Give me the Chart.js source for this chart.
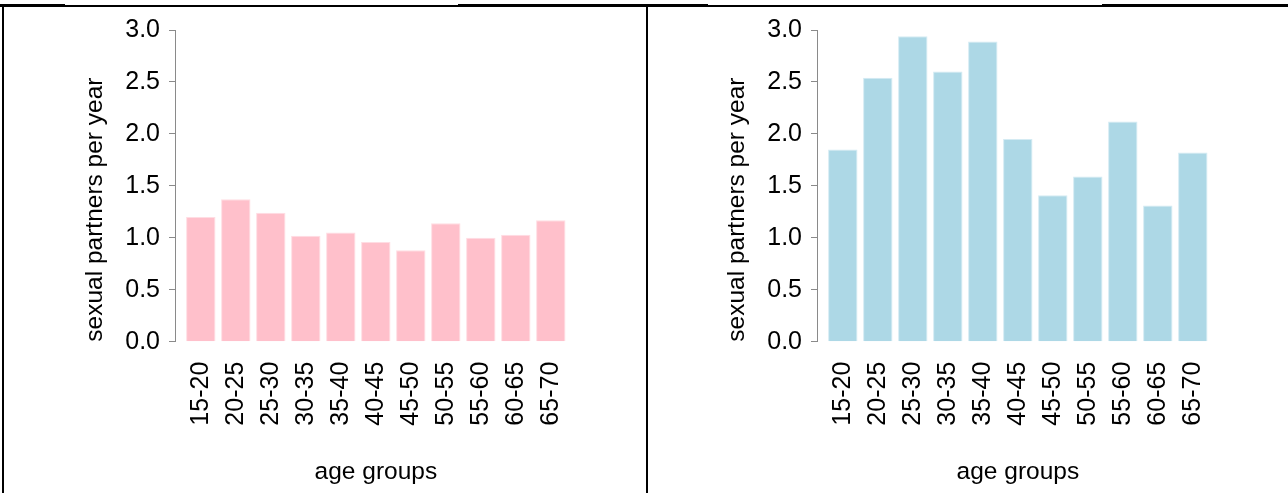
<!DOCTYPE html>
<html>
<head>
<meta charset="utf-8">
<title>Sexual partners per year by age group</title>
<script src="https://cdn.jsdelivr.net/npm/chart.js@4.4.1/dist/chart.umd.min.js"></script>
<style>
  html, body { margin: 0; padding: 0; background: #fff; }
  body { position: relative; width: 1288px; height: 493px; overflow: hidden; }
  .rule { position: absolute; background: #000; }
  canvas { position: absolute; top: 6px; }
  #femaleChart { left: 4px; }
  #maleChart { left: 646px; }
</style>
</head>
<body>
<!-- table cell borders round the two panels -->
<div class="rule" style="left:0;top:5px;width:1288px;height:1.5px"></div>
<div class="rule" style="left:0;top:4px;width:65px;height:2.5px"></div>
<div class="rule" style="left:458px;top:4px;width:250px;height:2.5px"></div>
<div class="rule" style="left:1102px;top:4px;width:186px;height:2.5px"></div>
<div class="rule" style="left:2px;top:4px;width:2px;height:489px"></div>
<div class="rule" style="left:646px;top:4px;width:2px;height:489px"></div>

<canvas id="femaleChart" width="642" height="487"></canvas>
<canvas id="maleChart" width="642" height="487"></canvas>

<script>
const ageGroups = ['15-20', '20-25', '25-30', '30-35', '35-40', '40-45',
                   '45-50', '50-55', '55-60', '60-65', '65-70'];
const femalePartners = [1.20, 1.37, 1.24, 1.02, 1.05, 0.96, 0.88, 1.14, 1.00, 1.03, 1.17];
const malePartners = [1.85, 2.54, 2.94, 2.60, 2.89, 1.95, 1.41, 1.59, 2.12, 1.31, 1.82];
const yTicks = [0, 0.5, 1.0, 1.5, 2.0, 2.5, 3.0];

const FONT = "'Liberation Sans', Arial, Helvetica, sans-serif";
const FONT_SIZE = 25;
const AXIS_GREY = '#8a8a8a';

/**
 * One barplot panel, laid out like the base R original
 * @param {string} id canvas id
 * @param {number[]} values
 * @param {string} fill
 * @param {string} edge
 */
function createPanel (id, values, fill, edge) {
  return new Chart(document.getElementById(id), {
    type: 'bar',
    data: {
      datasets: [{
        data: values.map((v, i) => ({ x: i + 1, y: v })),
        backgroundColor: fill,
        borderColor: edge,
        borderWidth: 1,
        barPercentage: 0.84,
        categoryPercentage: 1
      }]
    },
    options: {
      responsive: false,
      animation: false,
      layout: { padding: { top: 22.3, right: 69.2, bottom: 0, left: 0 } },
      plugins: { legend: { display: false }, tooltip: { enabled: false } },
      scales: {
        x: {
          type: 'linear',
          offset: false,
          min: 0.263,
          max: 11.743,
          afterFit: scale => { scale.height = 151.3; },
          afterBuildTicks: scale => {
            scale.ticks = ageGroups.map((_, i) => ({ value: i + 1 }));
          },
          grid: { display: false, drawTicks: false },
          border: { display: false },
          ticks: {
            autoSkip: false,
            minRotation: 90,
            maxRotation: 90,
            padding: 20,
            color: '#000',
            font: { family: FONT, size: FONT_SIZE },
            callback: v => ageGroups[v - 1]
          },
          title: {
            display: true,
            text: 'age groups',
            color: '#000',
            font: { family: FONT, size: 24.5 },
            padding: { top: 0, bottom: 6 }
          }
        },
        y: {
          min: 0,
          max: 3,
          afterFit: scale => { scale.width = 171; },
          afterBuildTicks: scale => {
            scale.ticks = yTicks.map(v => ({ value: v }));
          },
          grid: {
            drawOnChartArea: false,
            drawTicks: true,
            tickLength: 6,
            color: AXIS_GREY
          },
          border: { display: true, color: AXIS_GREY, width: 1 },
          ticks: {
            padding: 9,
            color: '#000',
            font: { family: FONT, size: FONT_SIZE },
            callback: v => v.toFixed(1)
          },
          title: {
            display: true,
            text: 'sexual partners per year',
            align: 'start',
            color: '#000',
            font: { family: FONT, size: 24.5 },
            padding: { top: 77, bottom: 0 }
          }
        }
      }
    }
  });
}

createPanel('femaleChart', femalePartners, '#ffc0cb', '#ffdde3');
createPanel('maleChart', malePartners, '#add8e6', '#d4ebf3');
</script>
</body>
</html>
